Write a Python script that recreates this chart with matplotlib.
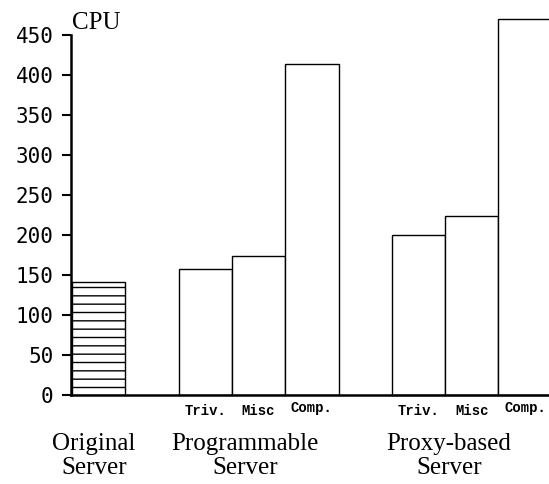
import matplotlib.pyplot as plt

# values
groups = ["Original\nServer", "Programmable\nServer", "Proxy-based\nServer"]
original_cpu = [141]
programmable_cpu = [157, 174, 414]
proxy_cpu = [200, 224, 470]
sub_labels = ["Triv.", "Misc", "Comp."]
y_ticks = [0, 50, 100, 150, 200, 250, 300, 350, 400, 450]

fig = plt.figure(figsize=(5.49, 4.84), dpi=100)
ax = fig.add_axes([0.1293, 0.1839, 0.8707, 0.7438])

# bar slots: original at 0, programmable at 2..4, proxy at 6..8
ax.bar([0], original_cpu, width=1, align="edge", color="white",
       edgecolor="black", linewidth=1, hatch="--")
prog_x = [2, 3, 4]
proxy_x = [6, 7, 8]
ax.bar(prog_x, programmable_cpu, width=1, align="edge", color="white",
       edgecolor="black", linewidth=1)
ax.bar(proxy_x, proxy_cpu, width=1, align="edge", color="white",
       edgecolor="black", linewidth=1, clip_on=False)

ax.set_xlim(-0.02, 8.95)
ax.set_ylim(0, 450)
ax.set_yticks(y_ticks)
ax.set_xticks([])
for t in ax.get_yticklabels():
    t.set_fontfamily("DejaVu Sans Mono")
    t.set_fontsize(15)
ax.tick_params(axis="y", direction="out", length=6.5, width=1.5, pad=6)

for side in ["top", "right"]:
    ax.spines[side].set_visible(False)
ax.spines["left"].set_linewidth(1.8)
ax.spines["bottom"].set_linewidth(1.8)

ax.text(0.0, 458, "CPU", fontsize=18, family="Liberation Serif",
        ha="left", va="baseline", transform=ax.transData)

# small labels under each bar
for xs in (prog_x, proxy_x):
    for x, lab in zip(xs, sub_labels):
        dy = 3 if lab == "Comp." else 0
        ax.annotate(lab, (x + 0.5, 0), xytext=(0, -20 + dy), textcoords="offset pixels",
                    ha="center", va="baseline", fontsize=10,
                    family="Liberation Mono", fontweight="bold", annotation_clip=False)

# group names
group_x = [0.41, 3.25, 7.07]
for x, lab in zip(group_x, groups):
    ax.annotate(lab, (x, 0), xytext=(0, -79), textcoords="offset pixels",
                ha="center", va="baseline", fontsize=18, family="Liberation Serif",
                linespacing=1.1, annotation_clip=False)

fig.savefig("out.png", dpi=100)
